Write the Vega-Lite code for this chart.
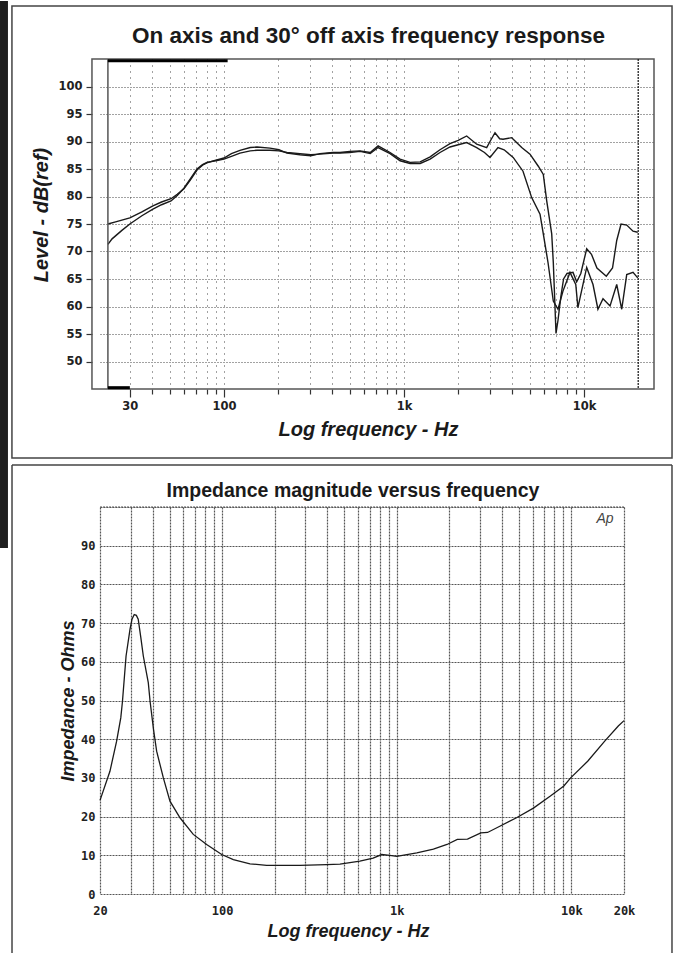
{
  "$schema": "https://vega.github.io/schema/vega-lite/v6.json",
  "padding": 0,
  "background": "white",
  "spacing": 118,
  "bounds": "flush",
  "config": {"view": {"stroke": null}},
  "vconcat": [
    {
      "width": 554,
      "height": 330,
      "layer": [
        {
          "data": {"values": [
            {"s":"on","f":22.66,"v":75.0},{"s":"on","f":25,"v":75.4},{"s":"on","f":30,"v":76.1},{"s":"on","f":35,"v":77.2},{"s":"on","f":40.3,"v":78.3},{"s":"on","f":45,"v":79.0},{"s":"on","f":50.8,"v":79.6},{"s":"on","f":55,"v":80.4},{"s":"on","f":59.9,"v":81.4},{"s":"on","f":65,"v":83.0},{"s":"on","f":70.8,"v":84.8},{"s":"on","f":76,"v":85.7},{"s":"on","f":80.4,"v":86.1},{"s":"on","f":90,"v":86.6},{"s":"on","f":100,"v":87.0},{"s":"on","f":110,"v":87.8},{"s":"on","f":122.7,"v":88.4},{"s":"on","f":140,"v":88.9},{"s":"on","f":152.6,"v":89.0},{"s":"on","f":180,"v":88.8},{"s":"on","f":202,"v":88.5},{"s":"on","f":224,"v":87.9},{"s":"on","f":264,"v":87.6},{"s":"on","f":304,"v":87.4},{"s":"on","f":341,"v":87.8},{"s":"on","f":403,"v":88.0},{"s":"on","f":441,"v":88.0},{"s":"on","f":500,"v":88.2},{"s":"on","f":570,"v":88.3},{"s":"on","f":649,"v":88.0},{"s":"on","f":718,"v":89.2},{"s":"on","f":837,"v":88.0},{"s":"on","f":951,"v":86.8},{"s":"on","f":1081,"v":86.2},{"s":"on","f":1230,"v":86.3},{"s":"on","f":1397,"v":87.2},{"s":"on","f":1585,"v":88.5},{"s":"on","f":1801,"v":89.6},{"s":"on","f":2000,"v":90.2},{"s":"on","f":2229,"v":91.0},{"s":"on","f":2534,"v":89.5},{"s":"on","f":2880,"v":88.9},{"s":"on","f":3004,"v":90.0},{"s":"on","f":3203,"v":91.6},{"s":"on","f":3400,"v":90.5},{"s":"on","f":3548,"v":90.4},{"s":"on","f":3966,"v":90.7},{"s":"on","f":4507,"v":88.9},{"s":"on","f":5012,"v":87.7},{"s":"on","f":5573,"v":85.5},{"s":"on","f":5941,"v":84.0},{"s":"on","f":6206,"v":79.2},{"s":"on","f":6616,"v":73.2},{"s":"on","f":6752,"v":68.0},{"s":"on","f":6990,"v":55.1},{"s":"on","f":7170,"v":57.5},{"s":"on","f":7451,"v":62.0},{"s":"on","f":7700,"v":65.0},{"s":"on","f":8045,"v":66.0},{"s":"on","f":8686,"v":66.2},{"s":"on","f":9108,"v":64.5},{"s":"on","f":9600,"v":66.0},{"s":"on","f":10350,"v":70.5},{"s":"on","f":11000,"v":69.5},{"s":"on","f":11800,"v":67.0},{"s":"on","f":13300,"v":65.5},{"s":"on","f":14400,"v":67.0},{"s":"on","f":15196,"v":72.0},{"s":"on","f":16060,"v":75.0},{"s":"on","f":17270,"v":74.8},{"s":"on","f":18720,"v":73.7},{"s":"on","f":19880,"v":73.5},
            {"s":"off","f":22.66,"v":71.3},{"s":"off","f":23.9,"v":72.3},{"s":"off","f":27,"v":73.8},{"s":"off","f":30,"v":75.0},{"s":"off","f":35,"v":76.5},{"s":"off","f":40.3,"v":77.7},{"s":"off","f":45,"v":78.5},{"s":"off","f":50.8,"v":79.2},{"s":"off","f":55,"v":80.2},{"s":"off","f":59.9,"v":81.5},{"s":"off","f":65,"v":83.2},{"s":"off","f":70.8,"v":85.0},{"s":"off","f":76,"v":85.8},{"s":"off","f":80.4,"v":86.2},{"s":"off","f":90,"v":86.5},{"s":"off","f":100,"v":86.8},{"s":"off","f":110,"v":87.3},{"s":"off","f":122.7,"v":87.9},{"s":"off","f":140,"v":88.3},{"s":"off","f":152.6,"v":88.4},{"s":"off","f":180,"v":88.4},{"s":"off","f":202,"v":88.3},{"s":"off","f":224,"v":88.0},{"s":"off","f":264,"v":87.8},{"s":"off","f":304,"v":87.6},{"s":"off","f":341,"v":87.7},{"s":"off","f":403,"v":87.9},{"s":"off","f":441,"v":87.9},{"s":"off","f":500,"v":88.0},{"s":"off","f":570,"v":88.2},{"s":"off","f":649,"v":87.8},{"s":"off","f":718,"v":88.9},{"s":"off","f":837,"v":87.8},{"s":"off","f":951,"v":86.5},{"s":"off","f":1081,"v":86.0},{"s":"off","f":1230,"v":86.0},{"s":"off","f":1397,"v":86.8},{"s":"off","f":1585,"v":88.0},{"s":"off","f":1801,"v":89.0},{"s":"off","f":2000,"v":89.4},{"s":"off","f":2229,"v":89.8},{"s":"off","f":2534,"v":88.9},{"s":"off","f":2800,"v":88.0},{"s":"off","f":3004,"v":87.1},{"s":"off","f":3328,"v":88.9},{"s":"off","f":3600,"v":88.5},{"s":"off","f":4040,"v":87.1},{"s":"off","f":4583,"v":84.6},{"s":"off","f":5120,"v":79.8},{"s":"off","f":5697,"v":76.8},{"s":"off","f":5941,"v":73.2},{"s":"off","f":6310,"v":68.0},{"s":"off","f":6752,"v":61.0},{"s":"off","f":7170,"v":59.5},{"s":"off","f":7640,"v":62.8},{"s":"off","f":8359,"v":66.2},{"s":"off","f":9000,"v":64.0},{"s":"off","f":9250,"v":59.8},{"s":"off","f":10350,"v":67.1},{"s":"off","f":11220,"v":64.0},{"s":"off","f":11950,"v":59.5},{"s":"off","f":12750,"v":61.4},{"s":"off","f":13950,"v":60.1},{"s":"off","f":15196,"v":64.0},{"s":"off","f":16200,"v":59.5},{"s":"off","f":17270,"v":65.8},{"s":"off","f":18720,"v":66.2},{"s":"off","f":19880,"v":65.2}
          ]},
          "mark": {"type": "line", "stroke": "#1a1a1a", "strokeWidth": 1.4, "clip": false},
          "encoding": {
            "x": {"field": "f", "type": "quantitative",
              "scale": {"type": "log", "domain": [20.48, 24480], "nice": false},
              "axis": {
                "values": [30,40,50,60,70,80,90,100,200,300,400,500,600,700,800,900,1000,2000,3000,4000,5000,6000,7000,8000,9000,10000],
                "tickCount": 100,
                "labelExpr": "datum.value == 30 ? '30' : datum.value == 100 ? '100' : datum.value == 1000 ? '1k' : datum.value == 10000 ? '10k' : ''",
                "domain": false,
                "tickSize": {"condition": {"test": "datum.value == 30 || datum.value == 100 || datum.value == 1000 || datum.value == 10000", "value": 8}, "value": 5},
                "tickColor": "#333", "tickWidth": 1.2,
                "grid": true, "gridColor": "#444", "gridDash": [1, 5], "gridWidth": 1,
                "labelFont": "DejaVu Sans", "labelFontWeight": "bold", "labelFontSize": 11.5, "labelColor": "#222",
                "labelPadding": 3, "labelFlush": false, "labelOverlap": false,
                "title": "Log frequency - Hz", "titleFont": "Liberation Sans", "titleFontSize": 20,
                "titleFontWeight": "bold", "titleFontStyle": "italic", "titleColor": "#1a1a1a",
                "titleX": 268, "titleY": 46, "titleBaseline": "alphabetic"
              }
            },
            "y": {"field": "v", "type": "quantitative",
              "scale": {"domain": [45, 105], "nice": false, "zero": false},
              "axis": {
                "values": [50,55,60,65,70,75,80,85,90,95,100],
                "format": "d",
                "tickCount": 100, "labelOverlap": false,
                "offset": 8, "domain": false, "tickSize": 6, "tickColor": "#333", "tickWidth": 1.2,
                "grid": true, "gridColor": "#444", "gridDash": [1, 2], "gridWidth": 1,
                "labelFont": "DejaVu Sans", "labelFontWeight": "bold", "labelFontSize": 11.5, "labelColor": "#222",
                "labelPadding": 4,
                "title": "Level - dB(ref)", "titleFont": "Liberation Sans", "titleFontSize": 20,
                "titleFontWeight": "bold", "titleFontStyle": "italic", "titleColor": "#1a1a1a",
                "titleX": -45, "titleY": 155.5, "titleBaseline": "alphabetic"
              }
            },
            "detail": {"field": "s"}
          }
        },
        {
          "data": {"values": [{}]},
          "mark": {"type": "rect", "fillOpacity": 0, "stroke": "#444", "strokeWidth": 1.5, "clip": false},
          "encoding": {
            "x": {"datum": 6.64, "type": "quantitative"}, "x2": {"datum": 30830},
            "y": {"datum": 114.64, "type": "quantitative"}, "y2": {"datum": 32.45}
          }
        },
        {
          "data": {"values": [{}]},
          "mark": {"type": "rect", "fill": "#1e1e1e", "clip": false},
          "encoding": {
            "x": {"datum": 5.70, "type": "quantitative"}, "x2": {"datum": 6.31},
            "y": {"datum": 115.55, "type": "quantitative"}, "y2": {"datum": 16.09}
          }
        },
        {
          "data": {"values": [{}]},
          "mark": {"type": "rect", "fillOpacity": 0, "stroke": "#555", "strokeWidth": 1.5, "clip": false},
          "encoding": {
            "x": {"datum": 18.48, "type": "quantitative"}, "x2": {"datum": 24480},
            "y": {"datum": 105, "type": "quantitative"}, "y2": {"datum": 45}
          }
        },
        {
          "data": {"values": [{}]},
          "mark": {"type": "rule", "stroke": "#555", "strokeWidth": 1.5, "clip": false},
          "encoding": {
            "x": {"datum": 22.66, "type": "quantitative"},
            "y": {"datum": 105, "type": "quantitative"}, "y2": {"datum": 45}
          }
        },
        {
          "data": {"values": [{}]},
          "mark": {"type": "rule", "stroke": "#111", "strokeWidth": 1.2, "strokeDash": [2, 1], "clip": false},
          "encoding": {
            "x": {"datum": 20000, "type": "quantitative"},
            "y": {"datum": 105, "type": "quantitative"}, "y2": {"datum": 45}
          }
        },
        {
          "data": {"values": [{}]},
          "mark": {"type": "rule", "stroke": "#000", "strokeWidth": 3, "clip": false},
          "encoding": {
            "x": {"datum": 22.66, "type": "quantitative"}, "x2": {"datum": 104.8},
            "y": {"datum": 104.7, "type": "quantitative"}
          }
        },
        {
          "data": {"values": [{}]},
          "mark": {"type": "rule", "stroke": "#000", "strokeWidth": 3, "clip": false},
          "encoding": {
            "x": {"datum": 22.66, "type": "quantitative"}, "x2": {"datum": 30},
            "y": {"datum": 45.24, "type": "quantitative"}
          }
        },
        {
          "data": {"values": [{}]},
          "mark": {"type": "text", "text": "On axis and 30° off axis frequency response", "font": "Liberation Sans", "fontSize": 22.5, "fontWeight": "bold", "fill": "#1a1a1a", "align": "center", "baseline": "alphabetic", "clip": false},
          "encoding": {
            "x": {"datum": 635, "type": "quantitative"},
            "y": {"datum": 107.9, "type": "quantitative"}
          }
        }
      ]
    },
    {
      "width": 524,
      "height": 387,
      "layer": [
        {
          "data": {"values": [
            {"f":20,"z":24.2},{"f":22.8,"z":31.7},{"f":24.9,"z":39.5},{"f":26.3,"z":45.5},{"f":26.9,"z":49.8},{"f":28.2,"z":61.5},{"f":29.7,"z":68.4},{"f":30.5,"z":71.0},{"f":31.4,"z":72.2},{"f":32.3,"z":72.0},{"f":33.1,"z":71.0},{"f":34.2,"z":66.5},{"f":35.4,"z":61.5},{"f":37.8,"z":54.6},{"f":38.7,"z":49.8},{"f":40.5,"z":42.5},{"f":42.2,"z":36.9},{"f":46.1,"z":30.0},{"f":50.3,"z":24.0},{"f":57.4,"z":19.7},{"f":68.4,"z":15.4},{"f":81.6,"z":12.8},{"f":99.5,"z":10.2},{"f":116,"z":8.9},{"f":144.5,"z":7.8},{"f":180,"z":7.4},{"f":279,"z":7.4},{"f":397,"z":7.6},{"f":473,"z":7.7},{"f":615,"z":8.5},{"f":732,"z":9.3},{"f":820,"z":10.2},{"f":913,"z":10.0},{"f":1000,"z":9.7},{"f":1303,"z":10.6},{"f":1621,"z":11.6},{"f":1940,"z":12.8},{"f":2221,"z":14.1},{"f":2540,"z":14.2},{"f":3030,"z":15.8},{"f":3310,"z":15.9},{"f":3890,"z":17.5},{"f":4850,"z":19.7},{"f":6060,"z":22.2},{"f":7580,"z":25.3},{"f":9050,"z":27.9},{"f":9900,"z":30.0},{"f":12390,"z":34.3},{"f":15510,"z":39.5},{"f":18550,"z":43.4},{"f":20000,"z":44.8}
          ]},
          "mark": {"type": "line", "stroke": "#1a1a1a", "strokeWidth": 1.3, "clip": false},
          "encoding": {
            "x": {"field": "f", "type": "quantitative",
              "scale": {"type": "log", "domain": [20, 20000], "nice": false},
              "axis": {
                "values": [20,30,40,50,60,70,80,90,100,200,300,400,500,600,700,800,900,1000,2000,3000,4000,5000,6000,7000,8000,9000,10000,20000],
                "tickCount": 100,
                "labelExpr": "datum.value == 20 ? '20' : datum.value == 100 ? '100' : datum.value == 1000 ? '1k' : datum.value == 10000 ? '10k' : datum.value == 20000 ? '20k' : ''",
                "domain": false, "ticks": false,
                "grid": true, "gridColor": "#555", "gridDash": [2, 1], "gridWidth": 1.2,
                "labelFont": "DejaVu Sans Mono", "labelFontWeight": "bold", "labelFontSize": 12, "labelColor": "#222",
                "labelPadding": 11, "labelFlush": false, "labelOverlap": false,
                "title": "Log frequency - Hz", "titleFont": "Liberation Sans", "titleFontSize": 18,
                "titleFontWeight": "bold", "titleFontStyle": "italic", "titleColor": "#1a1a1a",
                "titleX": 248, "titleY": 42, "titleBaseline": "alphabetic"
              }
            },
            "y": {"field": "z", "type": "quantitative",
              "scale": {"domain": [0, 100], "nice": false},
              "axis": {
                "values": [0,10,20,30,40,50,60,70,80,90,100],
                "format": "d",
                "tickCount": 100, "labelOverlap": false,
                "labelExpr": "datum.value == 100 ? '' : datum.label",
                "domain": false, "ticks": false,
                "grid": true, "gridColor": "#555", "gridDash": [2, 1], "gridWidth": 1.2,
                "labelFont": "DejaVu Sans Mono", "labelFontWeight": "bold", "labelFontSize": 12, "labelColor": "#222",
                "labelPadding": 5,
                "title": "Impedance - Ohms", "titleFont": "Liberation Sans", "titleFontSize": 18,
                "titleFontWeight": "bold", "titleFontStyle": "italic", "titleColor": "#1a1a1a",
                "titleX": -27, "titleY": 193.5, "titleBaseline": "alphabetic"
              }
            }
          }
        },
        {
          "data": {"values": [{}]},
          "mark": {"type": "rule", "stroke": "#555", "strokeWidth": 1.2, "strokeDash": [2, 1], "clip": false},
          "encoding": {
            "x": {"datum": 20, "type": "quantitative"}, "x2": {"datum": 20000},
            "y": {"datum": 100, "type": "quantitative"}
          }
        },
        {
          "data": {"values": [{}]},
          "mark": {"type": "rule", "stroke": "#444", "strokeWidth": 1.5, "clip": false},
          "encoding": {
            "x": {"datum": 6.27, "type": "quantitative"},
            "y": {"datum": 110.85, "type": "quantitative"}, "y2": {"datum": -15.5}
          }
        },
        {
          "data": {"values": [{}]},
          "mark": {"type": "rule", "stroke": "#444", "strokeWidth": 1.5, "clip": false},
          "encoding": {
            "x": {"datum": 37650, "type": "quantitative"},
            "y": {"datum": 110.85, "type": "quantitative"}, "y2": {"datum": -15.5}
          }
        },
        {
          "data": {"values": [{}]},
          "mark": {"type": "rule", "stroke": "#444", "strokeWidth": 1.5, "clip": false},
          "encoding": {
            "x": {"datum": 6.27, "type": "quantitative"}, "x2": {"datum": 37650},
            "y": {"datum": 110.85, "type": "quantitative"}
          }
        },
        {
          "data": {"values": [{}]},
          "mark": {"type": "text", "text": "Ap", "font": "Liberation Sans", "fontSize": 14, "fontStyle": "italic", "fill": "#444", "align": "center", "baseline": "middle", "clip": false},
          "encoding": {
            "x": {"datum": 15570, "type": "quantitative"},
            "y": {"datum": 96.9, "type": "quantitative"}
          }
        },
        {
          "data": {"values": [{}]},
          "mark": {"type": "text", "text": "Impedance magnitude versus frequency", "font": "Liberation Sans", "fontSize": 19.5, "fontWeight": "bold", "fill": "#1a1a1a", "align": "center", "baseline": "alphabetic", "clip": false},
          "encoding": {
            "x": {"datum": 561.6, "type": "quantitative"},
            "y": {"datum": 102.66, "type": "quantitative"}
          }
        }
      ]
    }
  ]
}
